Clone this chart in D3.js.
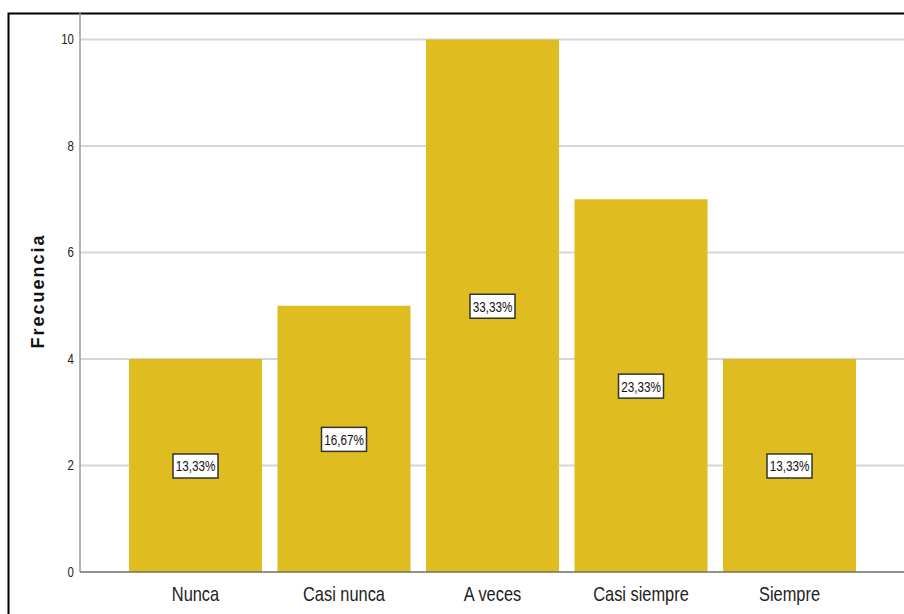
<!DOCTYPE html>
<html>
<head>
<meta charset="utf-8">
<script src="https://cdn.jsdelivr.net/npm/d3@7"></script>
<style>
  html, body { margin: 0; padding: 0; background: #fff; }
  svg { display: block; }
</style>
</head>
<body>
<svg id="chart" width="904" height="614"></svg>
<script>
const categories = ["Nunca", "Casi nunca", "A veces", "Casi siempre", "Siempre"];
const frequencies = [4, 5, 10, 7, 4];
const percentLabels = ["13,33%", "16,67%", "33,33%", "23,33%", "13,33%"];
const yTicks = [0, 2, 4, 6, 8, 10];
const yTitle = "Frecuencia";

const svg = d3.select("#chart");
const plot = { left: 80, right: 904, top: 39.5, bottom: 572 };
const FONT = "'Liberation Sans', Arial, sans-serif";
const NARROW = 0.82;

// outer frame
svg.append("rect")
  .attr("x", 8.5).attr("y", 13.5)
  .attr("width", 1000).attr("height", 1000)
  .attr("fill", "none").attr("stroke", "#000").attr("stroke-width", 2);

const y = d3.scaleLinear().domain([0, 10]).range([plot.bottom, plot.top]);
const x = d3.scaleBand().domain(categories)
  .range([121.25, 121.25 + 5 * 148.5])
  .paddingInner(15.5 / 148.5)
  .paddingOuter(15.5 / 148.5 / 2);

// gridlines
svg.append("g").selectAll("line")
  .data(yTicks.filter(d => d > 0))
  .join("line")
  .attr("x1", plot.left).attr("x2", plot.right)
  .attr("y1", d => y(d)).attr("y2", d => y(d))
  .attr("stroke", "#d6d6d6").attr("stroke-width", 2);

// bars
svg.append("g").selectAll("rect")
  .data(categories)
  .join("rect")
  .attr("x", d => x(d))
  .attr("width", x.bandwidth())
  .attr("y", (d, i) => y(frequencies[i]))
  .attr("height", (d, i) => y(0) - y(frequencies[i]))
  .attr("fill", "#DFBC1F");

// y axis
const yAxis = svg.append("g")
  .attr("transform", `translate(${plot.left},0)`)
  .call(d3.axisLeft(y).tickValues(yTicks).tickSize(0).tickPadding(6).tickFormat(d3.format("d")));
yAxis.select(".domain").attr("stroke", "#9a9a9a").attr("stroke-width", 1.5)
  .attr("d", `M0,13V${plot.bottom}`);
yAxis.selectAll("text")
  .attr("x", -6 / NARROW)
  .attr("transform", `scale(${NARROW},1)`)
  .attr("font-family", FONT)
  .attr("font-size", 14).attr("fill", "#222");

// x axis baseline
const xAxis = svg.append("g")
  .attr("transform", `translate(0,${plot.bottom})`)
  .call(d3.axisBottom(x).tickSize(0).tickPadding(15));
xAxis.select(".domain").attr("stroke", "#6e6e6e").attr("stroke-width", 1.5)
  .attr("d", `M${plot.left},0H${plot.right}`);
xAxis.selectAll("text")
  .attr("transform", `scale(${NARROW},1)`)
  .attr("font-family", FONT)
  .attr("font-size", 20).attr("fill", "#222");

// percentage labels with boxes
const lab = svg.append("g").selectAll("g")
  .data(categories)
  .join("g")
  .attr("transform", (d, i) => `translate(${x(d) + x.bandwidth() / 2},${y(frequencies[i] / 2) + 0.5})`);
lab.append("rect")
  .attr("x", -22.5).attr("y", -12).attr("width", 45).attr("height", 24)
  .attr("fill", "#fff").attr("stroke", "#333").attr("stroke-width", 1.5);
lab.append("text")
  .attr("text-anchor", "middle").attr("dy", "0.36em")
  .attr("transform", "scale(0.78,1)")
  .attr("font-family", FONT)
  .attr("font-size", 15).attr("fill", "#111")
  .text((d, i) => percentLabels[i]);

// y title
svg.append("text")
  .attr("transform", `translate(44,291) rotate(-90)`)
  .attr("text-anchor", "middle")
  .attr("font-family", FONT)
  .attr("font-weight", "bold").attr("font-size", 18)
  .attr("letter-spacing", "2px")
  .attr("fill", "#111")
  .text(yTitle);
</script>
</body>
</html>
